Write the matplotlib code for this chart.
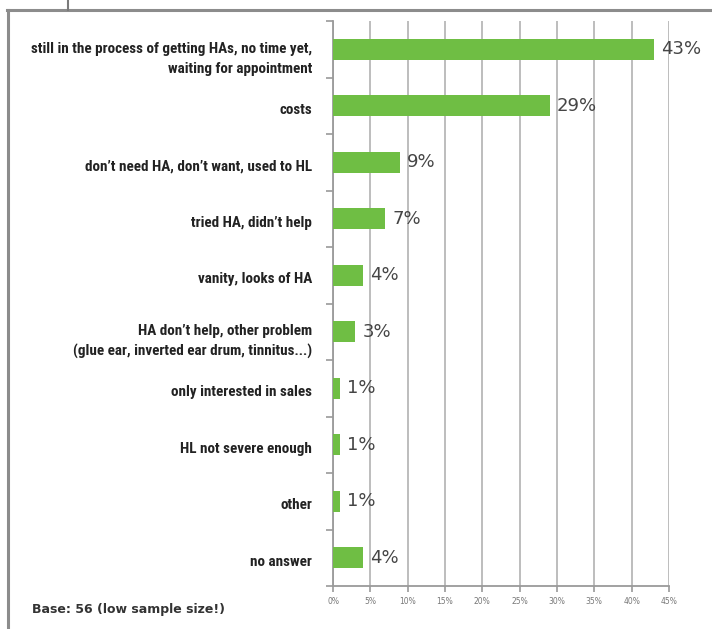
import matplotlib
matplotlib.use("Agg")
import matplotlib.pyplot as plt
from matplotlib import font_manager
from matplotlib.font_manager import FontProperties
from matplotlib.lines import Line2D
from matplotlib.ticker import FixedLocator

categories = [
    "still in the process of getting HAs, no time yet,\nwaiting for appointment",
    "costs",
    "don\u2019t need HA, don\u2019t want, used to HL",
    "tried HA, didn\u2019t help",
    "vanity, looks of HA",
    "HA don\u2019t help, other problem\n(glue ear, inverted ear drum, tinnitus...)",
    "only interested in sales",
    "HL not severe enough",
    "other",
    "no answer",
]
values = [43, 29, 9, 7, 4, 3, 1, 1, 1, 4]
x_ticks = [0, 5, 10, 15, 20, 25, 30, 35, 40, 45]
footnote = "Base: 56 (low sample size!)"


def narrow_bold_font():
    """Pick the narrowest bold face installed for the category labels."""
    files = [f.fname for f in font_manager.fontManager.ttflist]
    def base(p):
        return p.rsplit("/", 1)[-1].lower().replace("-", "").replace("_", "")
    wanted = ["notosansextracondensedbold", "robotocondensedbold",
              "liberationsansnarrowbold", "notosanscondensedbold",
              "opensanscondensedbold", "dejavusanscondensedbold"]
    for w in wanted:
        for p in files:
            if base(p).startswith(w) and "italic" not in base(p):
                return FontProperties(fname=p)
    return FontProperties(family="DejaVu Sans", weight="bold")


label_font = narrow_bold_font()

W, H = 712, 629
fig = plt.figure(figsize=(W / 100, H / 100), dpi=100)

# size the label face so the widest line spans about 240 px
renderer = fig.canvas.get_renderer()
probe_font = label_font.copy()
probe_font.set_size(10)
probe = fig.text(0, 0, "(glue ear, inverted ear drum, tinnitus...)", fontproperties=probe_font)
probe_w = probe.get_window_extent(renderer).width
probe.remove()
label_font.set_size(min(14.5, 10 * 240 / probe_w))

ax = fig.add_axes([333 / W, 1 - 586 / H, (669 - 333) / W, (586 - 21) / H])

pos = list(range(len(categories)))
ax.barh(pos, values, height=0.38, color="#6fbe44", zorder=3)
ax.set_ylim(len(categories) - 0.5, -0.5)
ax.set_xlim(0, 45)

# value labels
for p, v in zip(pos, values):
    ax.annotate(f"{v}%", xy=(v, p), xytext=(5, 0), textcoords="offset points",
                ha="left", va="center", fontsize=13, color="#454545",
                family="DejaVu Sans", zorder=4)

# category labels, set a little below the bar centre
ylab = ax.get_yaxis_transform()
for p, name in zip(pos, categories):
    drop = -7 if "\n" in name else -3
    ax.annotate(name, xy=(0, p), xycoords=ylab, xytext=(-15, drop),
                textcoords="offset points", ha="right", va="center",
                fontproperties=label_font, color="#222222", linespacing=1.5,
                annotation_clip=False)

ax.set_yticks([])
ax.yaxis.set_minor_locator(FixedLocator([i - 0.5 for i in range(len(categories) + 1)]))
ax.tick_params(axis="y", which="minor", length=5, width=1.2, color="#9a9a9a")

ax.set_xticks(x_ticks)
ax.set_xticklabels([f"{t}%" for t in x_ticks], fontsize=5.5, color="#777777")
ax.tick_params(axis="x", length=4, width=1.2, color="#9a9a9a", pad=4)
ax.grid(axis="x", color="#b8b8b8", linewidth=1.3, zorder=0)

for side in ("top", "right"):
    ax.spines[side].set_visible(False)
for side in ("left", "bottom"):
    ax.spines[side].set_color("#9a9a9a")
    ax.spines[side].set_linewidth(1.3)

fig.text(32 / W, 1 - 610 / H, footnote, fontsize=9, fontweight="bold",
         color="#333333", ha="left", va="center", family="DejaVu Sans")

# page frame
fig.add_artist(Line2D([7 / W, 1.0], [1 - 10 / H, 1 - 10 / H], color="#8c8c8c",
                      linewidth=2.2, transform=fig.transFigure))
fig.add_artist(Line2D([8 / W, 8 / W], [1 - 10 / H, 0.0], color="#8c8c8c",
                      linewidth=2.2, transform=fig.transFigure))
fig.add_artist(Line2D([68 / W, 68 / W], [1.0, 1 - 10 / H], color="#7a7a7a",
                      linewidth=1.5, transform=fig.transFigure))

fig.savefig("out.png", dpi=100)
